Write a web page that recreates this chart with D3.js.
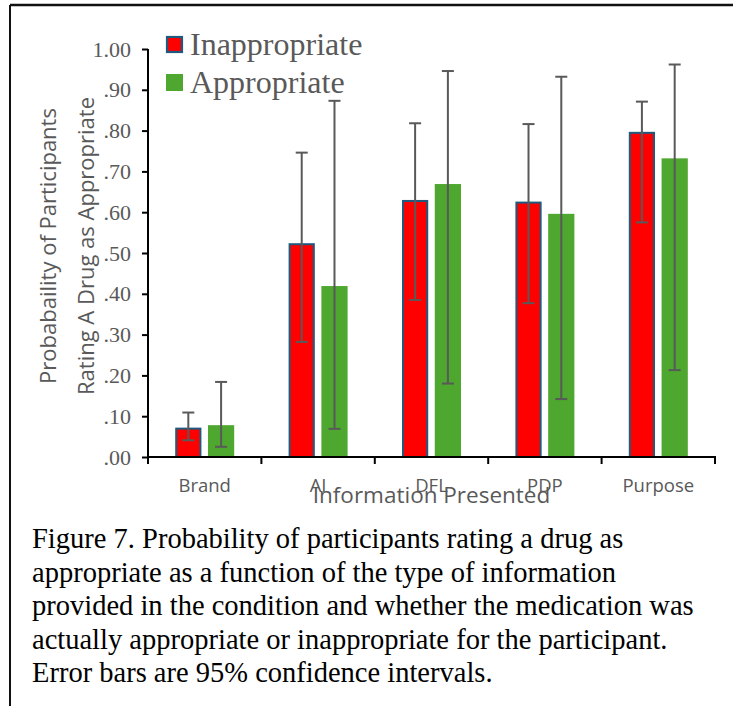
<!DOCTYPE html>
<html>
<head>
<meta charset="utf-8">
<script src="https://cdn.jsdelivr.net/npm/d3@7"></script>
<style>
  html, body { margin: 0; padding: 0; background: #fff; }
  svg { display: block; }
</style>
</head>
<body>
<svg id="chart" width="733" height="706"></svg>
<script>
// Information conditions along the x axis
const categories = ["Brand", "AI", "DFL", "PDP", "Purpose"];
const seriesNames = ["Inappropriate", "Appropriate"];

// Probability of rating the drug as appropriate
const inappropriateValues = [0.072, 0.524, 0.630, 0.626, 0.797];
const appropriateValues   = [0.078, 0.419, 0.669, 0.596, 0.732];

// 95% confidence interval bounds
const inappropriateLower = [0.041, 0.282, 0.385, 0.377, 0.575];
const inappropriateUpper = [0.109, 0.746, 0.818, 0.816, 0.871];
const appropriateLower   = [0.025, 0.069, 0.180, 0.142, 0.213];
const appropriateUpper   = [0.184, 0.873, 0.946, 0.932, 0.962];

// Y axis ticks
const yTickValues = [0, 0.1, 0.2, 0.3, 0.4, 0.5, 0.6, 0.7, 0.8, 0.9, 1.0];
const yTickLabels = [".00", ".10", ".20", ".30", ".40", ".50", ".60", ".70", ".80", ".90", "1.00"];

const captionLines = [
  "Figure 7. Probability of participants rating a drug as",
  "appropriate as a function of the type of information",
  "provided in the condition and whether the medication was",
  "actually appropriate or inappropriate for the participant.",
  "Error bars are 95% confidence intervals."
];

const colors = { Inappropriate: "#FF0000", Appropriate: "#4EA72E" };
const redStroke = "#1F5A7E";
const grayText = "#595959";
const serif = "'Liberation Serif', 'Times New Roman', serif";
const sans = "'Open Sans', 'Liberation Sans', Arial, sans-serif";

const svg = d3.select("#chart");

// Frame lines
svg.append("line").attr("x1", 10).attr("x2", 733).attr("y1", 5).attr("y2", 5)
  .attr("stroke", "#111").attr("stroke-width", 2.5);
svg.append("line").attr("x1", 10).attr("x2", 10).attr("y1", 5).attr("y2", 706)
  .attr("stroke", "#111").attr("stroke-width", 2);

const plot = { left: 148, right: 715, top: 49, bottom: 457 };

const x0 = d3.scaleBand().domain(categories).range([plot.left, plot.right]).padding(0);
const half = 29.5;
const x1 = d3.scaleBand().domain(seriesNames)
  .range([x0.bandwidth() / 2 - half, x0.bandwidth() / 2 + half]).paddingInner(0.2);
const y = d3.scaleLinear().domain([0, 1]).range([plot.bottom, plot.top]);

const rows = categories.map((c, i) => ({
  cat: c,
  bars: [
    { key: "Inappropriate", v: inappropriateValues[i], lo: inappropriateLower[i], hi: inappropriateUpper[i] },
    { key: "Appropriate", v: appropriateValues[i], lo: appropriateLower[i], hi: appropriateUpper[i] }
  ]
}));

// Bars
const groups = svg.append("g").selectAll("g").data(rows).join("g")
  .attr("transform", d => `translate(${x0(d.cat)},0)`);

groups.selectAll("rect").data(d => d.bars).join("rect")
  .attr("x", d => x1(d.key) + (d.key === "Inappropriate" ? 1 : 0))
  .attr("width", d => x1.bandwidth() - (d.key === "Inappropriate" ? 2 : 0))
  .attr("y", d => y(d.v) + (d.key === "Inappropriate" ? 1 : 0))
  .attr("height", d => y(0) - y(d.v) - (d.key === "Inappropriate" ? 1 : 0))
  .attr("fill", d => colors[d.key])
  .attr("stroke", d => d.key === "Inappropriate" ? redStroke : "none")
  .attr("stroke-width", 2);

// Error bars
const capW = 12;
const eb = groups.selectAll("g.err").data(d => d.bars).join("g").attr("class", "err")
  .attr("stroke", grayText).attr("stroke-width", 2);
eb.append("line")
  .attr("x1", d => x1(d.key) + x1.bandwidth() / 2)
  .attr("x2", d => x1(d.key) + x1.bandwidth() / 2)
  .attr("y1", d => y(d.lo)).attr("y2", d => y(d.hi));
eb.append("line")
  .attr("x1", d => x1(d.key) + x1.bandwidth() / 2 - capW / 2)
  .attr("x2", d => x1(d.key) + x1.bandwidth() / 2 + capW / 2)
  .attr("y1", d => y(d.hi)).attr("y2", d => y(d.hi));
eb.append("line")
  .attr("x1", d => x1(d.key) + x1.bandwidth() / 2 - capW / 2)
  .attr("x2", d => x1(d.key) + x1.bandwidth() / 2 + capW / 2)
  .attr("y1", d => y(d.lo)).attr("y2", d => y(d.lo));

// Y axis
const yAxis = svg.append("g").attr("transform", `translate(${plot.left},0)`)
  .call(d3.axisLeft(y).tickValues(yTickValues).tickSize(6).tickPadding(11)
    .tickFormat((d, i) => yTickLabels[i]));
yAxis.select(".domain").attr("stroke", "#000").attr("stroke-width", 2)
  .attr("d", `M0,${plot.top}V${plot.bottom}`);
yAxis.selectAll(".tick line").attr("stroke", "#000").attr("stroke-width", 2);
yAxis.selectAll(".tick text").attr("fill", grayText)
  .style("font-family", serif).style("font-size", "22px");

// X axis with boundary ticks between categories
const xAxis = svg.append("g").attr("transform", `translate(0,${plot.bottom})`);
xAxis.append("line").attr("x1", plot.left - 1).attr("x2", plot.right + 1)
  .attr("stroke", "#000").attr("stroke-width", 2);
const boundaries = categories.map(c => x0(c)).concat([x0(categories[categories.length - 1]) + x0.bandwidth()]);
xAxis.selectAll("line.b").data(boundaries).join("line").attr("class", "b")
  .attr("x1", d => d).attr("x2", d => d).attr("y1", 0).attr("y2", 7)
  .attr("stroke", "#000").attr("stroke-width", 2);
xAxis.selectAll("text").data(categories).join("text")
  .attr("x", d => x0(d) + x0.bandwidth() / 2).attr("y", 35)
  .attr("text-anchor", "middle").attr("fill", grayText)
  .style("font-family", sans).style("font-size", "18.5px")
  .text(d => d);

// Axis titles
svg.append("text").attr("x", (plot.left + plot.right) / 2).attr("y", 503)
  .attr("text-anchor", "middle").attr("fill", grayText)
  .style("font-family", sans).style("font-size", "22.5px")
  .text("Information Presented");

const yTitle = svg.append("text").attr("transform", "translate(0,246) rotate(-90)")
  .attr("text-anchor", "middle").attr("fill", grayText)
  .style("font-family", sans).style("font-size", "22px");
yTitle.append("tspan").attr("x", 0).attr("y", 56).text("Probabaility of Participants");
yTitle.append("tspan").attr("x", 0).attr("y", 94).text("Rating A Drug as Appropriate");

// Legend
const legend = svg.append("g");
seriesNames.forEach((name, i) => {
  const ly = 36 + i * 38;
  legend.append("rect").attr("x", name === "Inappropriate" ? 167 : 166)
    .attr("y", ly + (name === "Inappropriate" ? 1 : 0))
    .attr("width", name === "Inappropriate" ? 15 : 17)
    .attr("height", name === "Inappropriate" ? 15 : 17)
    .attr("fill", colors[name])
    .attr("stroke", name === "Inappropriate" ? redStroke : "none")
    .attr("stroke-width", 2.2);
  legend.append("text").attr("x", 190).attr("y", ly + 19)
    .attr("fill", grayText).style("font-family", serif).style("font-size", "32px")
    .text(name);
});

// Caption
svg.append("g").selectAll("text").data(captionLines).join("text")
  .attr("x", 32).attr("y", (d, i) => 548 + i * 33.6)
  .attr("fill", "#000").style("font-family", serif).style("font-size", "28.5px")
  .text(d => d);
</script>
</body>
</html>
